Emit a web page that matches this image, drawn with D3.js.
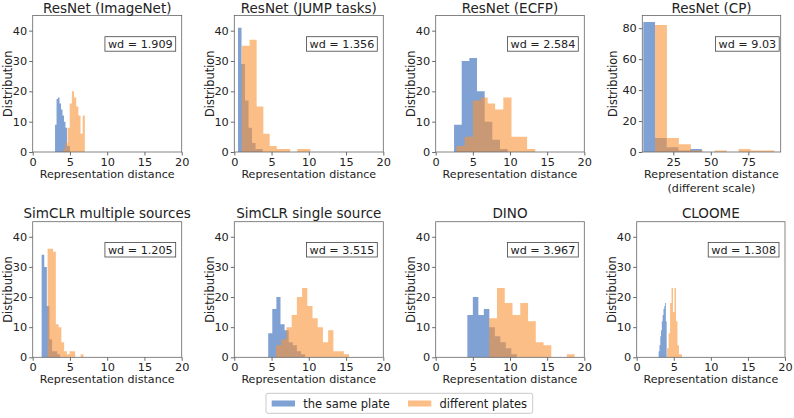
<!DOCTYPE html>
<html><head><meta charset="utf-8">
<script src="https://cdn.jsdelivr.net/npm/d3@7/dist/d3.min.js"></script>
<style>
body{margin:0;background:#fff}
text{font-family:"DejaVu Sans",sans-serif;fill:#222}
</style>
</head><body>
<svg id="chart" width="794" height="418"></svg>
<script>
// ---------- data ----------
const panelTitles = ["ResNet (ImageNet)","ResNet (JUMP tasks)","ResNet (ECFP)","ResNet (CP)",
  "SimCLR multiple sources","SimCLR single source","DINO","CLOOME"];
const wdLabels = ["wd = 1.909","wd = 1.356","wd = 2.584","wd = 9.03",
  "wd = 1.205","wd = 3.515","wd = 3.967","wd = 1.308"];
const seriesNames = ["the same plate","different plates"];
const xTicks = [0,5,10,15,20];
const xTicksCP = [25,50,75];
const yTicks = [0,10,20,30,40];
const yTicksCP = [0,20,40,60,80];
const yMax = 45, yMaxCP = 88.2;
const xDomainCP = [4.33, 96.6];

// ResNet (ImageNet)
const imagenetSameEdges = [3.0,3.2,3.4,3.6,3.8,4.0,4.2,4.4,4.6,4.8,5.0];
const imagenetSameCounts = [9,17.5,18,16,14,12,10,8,2,2];
const imagenetDiffEdges = [4.1,4.39,4.68,4.97,5.26,5.55,5.84,6.13,6.42,6.71,7.0];
const imagenetDiffCounts = [1,3,8,16,20,18,15,12,6,12];
// ResNet (JUMP tasks)
const jumpSameEdges = [0.5,0.97,1.44,1.91,2.38,2.85,3.32,3.79];
const jumpSameCounts = [41,29,17,8,3,1,1];
const jumpDiffEdges = [1.0,2.05,3.0,3.9,4.75,5.7,6.6,7.5,8.45,9.3,10.2];
const jumpDiffCounts = [35,37,15,6,2,1,1,0,1,1];
// ResNet (ECFP)
const ecfpSameEdges = [2.47,3.5,4.53,5.56,6.59,7.62,8.65,9.68];
const ecfpSameCounts = [9,30,31,20,10,4,1];
const ecfpDiffEdges = [2.8,3.9,5.0,6.1,7.0,8.0,9.1,10.2,11.2,12.3,13.4];
const ecfpDiffCounts = [2,5,17,18,16,14,18,5,5,1];
// ResNet (CP)
const cpSameEdges = [5,12.8,20.6,28.4,36.2,44.0];
const cpSameCounts = [84,9,3,1,2];
const cpDiffEdges = [12.8,20.76,28.7,36.7,44.6,52.6,60.6,68.5,76.5,84.4,92.4];
const cpDiffCounts = [82,9,5,1,0,1,0,2,1,1];
// SimCLR multiple sources
const simMultiSameEdges = [1.2,1.55,1.9,2.25,2.6,2.95,3.3,3.65];
const simMultiSameCounts = [34,30,17,6,2,2,1];
const simMultiDiffEdges = [2.0,2.37,2.74,3.11,3.48,3.85,4.22,4.59,4.96,5.33,5.7,6.07,6.44,6.81];
const simMultiDiffCounts = [36,36,35,11,10,5,2,1,2,2,0,0,1];
// SimCLR single source
const simSingleSameEdges = [4.55,5.1,5.65,6.2,6.75,7.3,7.85,8.4,8.95,9.5];
const simSingleSameCounts = [8,16,20,11,9,5,4,2,1];
const simSingleDiffEdges = [5.6,6.3,7.0,7.7,8.4,9.1,9.8,10.5,11.2,11.9,12.6,13.3,14.0,14.7,15.4];
const simSingleDiffCounts = [4,6,10,14,20,23,17,13,10,5,9,2,2,1];
// DINO
const dinoSameEdges = [4.26,5.0,5.74,6.48,7.22,7.96,8.7,9.44,10.18,10.92];
const dinoSameCounts = [14,20,14,16,10,7,5,3,1];
const dinoDiffEdges = [7.2,8.25,9.29,10.34,11.38,12.43,13.47,14.52,15.56,16.61,17.65,18.7];
const dinoDiffCounts = [13,23,18,14,18,12,5,4,0,0,1];
// CLOOME
const cloomeSameEdges = [2.96,3.07,3.18,3.28,3.39,3.5,3.61,3.72,3.82,3.93,4.04];
const cloomeSameCounts = [2,4,7,9,12,14,16,17,18,12];
const cloomeDiffEdges = [4.1,4.3,4.5,4.7,4.9,5.1,5.3,5.5,5.7,5.9,6.1];
const cloomeDiffCounts = [3,8,18,23,15,23,12,4,1,1];

// ---------- layout ----------
const C_BLUE = "#2a62b6", C_ORANGE = "#fa9337", ALPHA = 0.6;
const rows = [{top:15.5,bottom:152,title:13,box:36.7},{top:221.7,bottom:357.3,title:217.5,box:242.5}];
const colsR1 = [[32.7,181.7],[234.3,383.3],[435.7,584.3],[642.3,780.7]];
const colsR2 = [[32.7,181.7],[234.3,383.3],[435.7,584.3],[636.7,785]];

const panels = [
  [imagenetSameEdges,imagenetSameCounts,imagenetDiffEdges,imagenetDiffCounts],
  [jumpSameEdges,jumpSameCounts,jumpDiffEdges,jumpDiffCounts],
  [ecfpSameEdges,ecfpSameCounts,ecfpDiffEdges,ecfpDiffCounts],
  [cpSameEdges,cpSameCounts,cpDiffEdges,cpDiffCounts],
  [simMultiSameEdges,simMultiSameCounts,simMultiDiffEdges,simMultiDiffCounts],
  [simSingleSameEdges,simSingleSameCounts,simSingleDiffEdges,simSingleDiffCounts],
  [dinoSameEdges,dinoSameCounts,dinoDiffEdges,dinoDiffCounts],
  [cloomeSameEdges,cloomeSameCounts,cloomeDiffEdges,cloomeDiffCounts]
];

const svg = d3.select("#chart");

panels.forEach((p, i) => {
  const r = Math.floor(i/4), c = i%4;
  const row = rows[r];
  const [L, R] = (r===0 ? colsR1 : colsR2)[c];
  const isCP = (i===3);
  const x = d3.scaleLinear().domain(isCP ? xDomainCP : [0,20]).range([L,R]);
  const y = d3.scaleLinear().domain([0, isCP ? yMaxCP : yMax]).range([row.bottom,row.top]);
  const g = svg.append("g");

  // bars: one path per series so adjacent bins have no seams
  const drawHist = (edges, counts, color) => {
    const path = d3.path();
    counts.forEach((d,k) => {
      if (d <= 0) return;
      path.rect(x(edges[k]), y(d), x(edges[k+1]) - x(edges[k]), y(0) - y(d));
    });
    g.append("path").attr("d", path.toString())
      .attr("fill", color).attr("fill-opacity", ALPHA);
  };
  drawHist(p[0], p[1], C_BLUE);
  drawHist(p[2], p[3], C_ORANGE);

  // axes
  const xa = d3.axisBottom(x).tickValues(isCP ? xTicksCP : xTicks).tickSize(3.5).tickPadding(2);
  const ya = d3.axisLeft(y).tickValues(isCP ? yTicksCP : yTicks).tickSize(3.5).tickPadding(2);
  const gx = g.append("g").attr("transform",`translate(0,${row.bottom})`).call(xa);
  const gy = g.append("g").attr("transform",`translate(${L},0)`).call(ya);
  [gx,gy].forEach(a => {
    a.select(".domain").remove();
    a.selectAll("line").attr("stroke","#444").attr("stroke-width",0.8);
    a.selectAll("text").attr("font-size",11.3).attr("fill","#222").style("font-family","DejaVu Sans");
  });
  // frame
  g.append("rect").attr("x",L).attr("y",row.top).attr("width",R-L).attr("height",row.bottom-row.top)
    .attr("fill","none").attr("stroke","#666").attr("stroke-width",0.8);

  // title
  g.append("text").attr("x",(L+R)/2).attr("y",row.title).attr("text-anchor","middle")
    .attr("font-size",13.5).text(panelTitles[i]);
  // y label
  g.append("text").attr("transform",`translate(${L-(isCP?25:20.5)},${(row.top+row.bottom)/2}) rotate(-90)`)
    .attr("text-anchor","middle").attr("font-size",11.4).text("Distribution");
  // x label
  g.append("text").attr("x",(L+R)/2).attr("y",row.bottom+26).attr("text-anchor","middle")
    .attr("font-size",11.1).text("Representation distance");
  if (isCP) g.append("text").attr("x",(L+R)/2).attr("y",row.bottom+39.5).attr("text-anchor","middle")
    .attr("font-size",11.1).text("(different scale)");

  // wd box
  const bg = g.append("g");
  const boxRect = bg.append("rect");
  const tx = bg.append("text").attr("x", R - (isCP?4.5:9)).attr("y", row.box + 11.3).attr("text-anchor","end")
    .attr("font-size",11.2).text(wdLabels[i]);
  const bb = tx.node().getBBox();
  boxRect.attr("x", bb.x - 3).attr("y", row.box).attr("width", bb.width + 6).attr("height", 14.5)
    .attr("fill","#fff").attr("stroke","#444").attr("stroke-width",0.8);
});

// legend
const lg = svg.append("g");
lg.append("rect").attr("x",266).attr("y",393.3).attr("width",266.7).attr("height",20).attr("rx",2)
  .attr("fill","#fff").attr("stroke","#bbb").attr("stroke-width",0.8);
const legendItems = [{name:seriesNames[0],color:C_BLUE,x:271.7},{name:seriesNames[1],color:C_ORANGE,x:408}];
legendItems.forEach(it => {
  lg.append("rect").attr("x",it.x).attr("y",400.5).attr("width",23.3).attr("height",6)
    .attr("fill",it.color).attr("fill-opacity",ALPHA);
  lg.append("text").attr("x",it.x+31.5).attr("y",407.5).attr("font-size",11.5).text(it.name);
});
</script>
</body></html>
